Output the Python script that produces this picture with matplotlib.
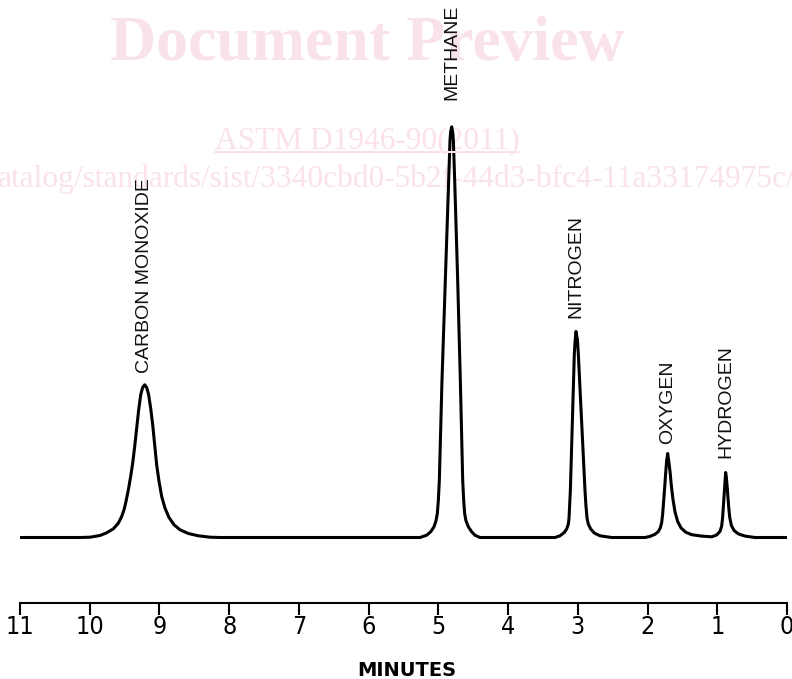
import matplotlib
matplotlib.use("Agg")
import matplotlib.pyplot as plt
from matplotlib import font_manager
from matplotlib.lines import Line2D

# Chromatogram trace (retention time in minutes, detector response, baseline = 0)
minutes = [
    # carbon monoxide
    11.0, 10.140, 9.996, 9.853, 9.757, 9.661, 9.590, 9.542, 9.508, 9.480, 9.446, 9.413, 9.384,
    9.355, 9.327, 9.298, 9.269, 9.241, 9.212, 9.183, 9.155, 9.126, 9.097, 9.069, 9.040, 9.006,
    8.968, 8.920, 8.863, 8.791, 8.705, 8.586, 8.442, 8.275, 8.132,
    # methane
    5.263, 5.168, 5.110, 5.063, 5.034, 5.015, 5.000, 4.986, 4.948, 4.900, 4.852, 4.833, 4.824,
    4.809, 4.795, 4.785, 4.766, 4.723, 4.685, 4.651, 4.637, 4.623, 4.604, 4.570, 4.522, 4.475,
    4.403,
    # nitrogen
    3.327, 3.256, 3.193, 3.160, 3.136, 3.126, 3.117, 3.107, 3.079, 3.050, 3.038, 3.026, 3.005,
    2.993, 2.945, 2.897, 2.883, 2.868, 2.849, 2.816, 2.763, 2.682, 2.515,
    # oxygen
    2.037, 1.965, 1.893, 1.845, 1.817, 1.797, 1.783, 1.769, 1.754, 1.740, 1.726, 1.711, 1.697,
    1.678, 1.659, 1.635, 1.606, 1.568, 1.520, 1.453, 1.367, 1.224,
    # hydrogen
    1.080, 1.009, 0.961, 0.937, 0.923, 0.913, 0.904, 0.894, 0.887, 0.880, 0.870, 0.860, 0.849,
    0.837, 0.822, 0.798, 0.760, 0.698, 0.602, 0.459, 0.0,
]
response = [
    0, 0, 0.3, 2, 4.7, 8.7, 14.3, 21, 27.7, 36, 47.7, 61, 74.3,
    91, 109.3, 127.7, 142.7, 150, 152.7, 150, 142.7, 129.3, 112.7, 92.7, 72.7, 56,
    41, 29.3, 20, 12.7, 7.7, 4, 1.7, 0.3, 0,
    0, 2.3, 5.7, 10.7, 16.7, 24, 37.3, 57.3, 157.3, 257.3, 357.3, 397.3, 405.7,
    410.7, 405.7, 397.3, 357.3, 257.3, 157.3, 57.3, 37.3, 24, 16.7, 10.7, 5.7, 2.3,
    0,
    0, 1.7, 5.1, 8.6, 13.3, 19.5, 31.5, 46.9, 115.3, 183.8, 197.5, 206, 197.5,
    183.8, 115.3, 46.9, 31.5, 19.5, 13.3, 8.6, 4.4, 1.7, 0,
    0, 1.1, 3.2, 6, 9.6, 14.9, 23.7, 36.1, 50.3, 64.5, 76.9, 84, 76.9,
    66.3, 52.1, 37.9, 25.5, 16, 9.6, 5.3, 2.8, 1.4,
    0.7, 2.5, 6.1, 11.4, 20.4, 31.1, 41.8, 52.5, 60.4, 65, 60.4, 52.5, 41.8,
    31.1, 20.4, 12.1, 7.1, 3.6, 1.4, 0, 0,
]

# Peak labels and their retention times
peak_names = ["CARBON MONOXIDE", "METHANE", "NITROGEN", "OXYGEN", "HYDROGEN"]
peak_times = [9.212, 4.809, 3.026, 1.711, 0.880]
label_gap = [12, 27, 13, 10, 14]

ticks = list(range(0, 12))

# narrow font for the tick numbers if one is installed
names = {f.name for f in font_manager.fontManager.ttflist}
cond = [f for f in font_manager.fontManager.ttflist
        if f.name == "DejaVu Sans" and "ondensed" in str(f.stretch)]
if "Liberation Sans Narrow" in names:
    tick_font = dict(family="Liberation Sans Narrow", size=20, stretch="normal")
elif cond:
    tick_font = dict(family="DejaVu Sans", size=18, stretch="condensed")
else:
    tick_font = dict(family="Liberation Sans", size=17, stretch="normal")

W, H = 792, 679
fig = plt.figure(figsize=(W / 100, H / 100), dpi=100)
ax = fig.add_axes([20 / W, 76 / H, 767 / W, 603 / H])
ax.set_facecolor("none")

# watermark (drawn behind the trace)
wm_color = "#fae2e9"
ax.text(367 / W, 1 - 60 / H, "Document Preview", transform=fig.transFigure,
        ha="center", va="baseline", fontsize=46, fontweight="bold",
        family="Liberation Serif", color=wm_color, zorder=0.5, clip_on=False)
astm = ax.text(367 / W, 1 - 148.5 / H, "ASTM D1946-90(2011)", transform=fig.transFigure,
               ha="center", va="baseline", fontsize=22.6, family="Liberation Serif",
               color=wm_color, zorder=0.5, clip_on=False)
ax.text(-2 / W, 1 - 187 / H,
        "atalog/standards/sist/3340cbd0-5b2f-44d3-bfc4-11a33174975c/astm-d1946-902011",
        transform=fig.transFigure, ha="left", va="baseline", fontsize=22.6,
        family="Liberation Serif", color=wm_color, zorder=0.5, clip_on=False)

# trace
ax.plot(minutes, response, color="black", linewidth=2.2,
        solid_joinstyle="round", solid_capstyle="round", zorder=2)

# peak labels
for name, t, gap in zip(peak_names, peak_times, label_gap):
    top = max(r for m, r in zip(minutes, response) if abs(m - t) < 0.1)
    ax.text(t, top + gap, name, rotation=90, ha="center", va="bottom",
            fontsize=14, family=["Liberation Sans", "DejaVu Sans"], color="#111111")

ax.set_xlim(11, 0)
ax.set_ylim(-65.5, 537.5)
ax.set_xticks(ticks)
ax.set_xticklabels([str(t) for t in ticks])
for lab in ax.get_xticklabels():
    lab.set_fontfamily(tick_font["family"])
    lab.set_fontsize(tick_font["size"])
    lab.set_fontstretch(tick_font["stretch"])
ax.tick_params(axis="x", direction="out", length=8.6, width=1.5, pad=0, colors="black")
ax.set_yticks([])
for side in ["left", "right", "top"]:
    ax.spines[side].set_visible(False)
ax.spines["bottom"].set_linewidth(1.5)

fig.text(407 / W, 3 / H, "MINUTES", ha="center", va="baseline",
         fontsize=14, fontweight="bold", family="DejaVu Sans")

# underline under the ASTM designation
fig.canvas.draw()
bb = astm.get_window_extent()
y_line = (H - 152) / H
fig.add_artist(Line2D([bb.x0 / W, bb.x1 / W], [y_line, y_line],
                      transform=fig.transFigure, color=wm_color, linewidth=1.5, zorder=0.5))

fig.savefig("out.png", dpi=100)
